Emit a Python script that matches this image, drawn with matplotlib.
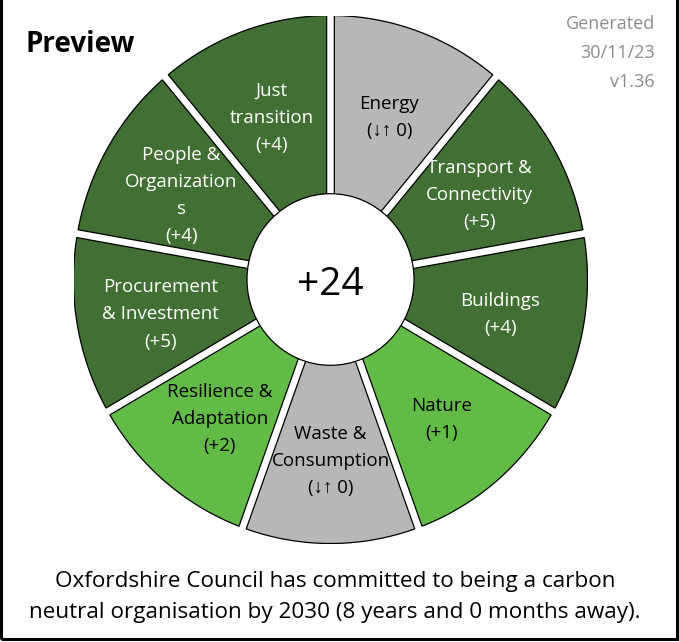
import numpy as np
import matplotlib
matplotlib.use("Agg")
import matplotlib.pyplot as plt
from matplotlib.patches import Polygon, Circle, Rectangle

plt.rcParams['font.family'] = ['Open Sans', 'Liberation Sans', 'DejaVu Sans']

# segments clockwise from the top
labels = ["Energy", "Transport &\nConnectivity", "Buildings", "Nature",
          "Waste &\nConsumption", "Resilience &\nAdaptation",
          "Procurement\n& Investment", "People &\nOrganization\ns",
          "Just\ntransition"]
scores = [0, 5, 4, 1, 0, 2, 5, 4, 4]
total_label = "+24"
footer = ("Oxfordshire Council has committed to being a carbon\n"
          "neutral organisation by 2030 (8 years and 0 months away).")
generated = "Generated\n30/11/23\nv1.36"

dark_green = '#426f33'
light_green = '#62bb46'
grey = '#b7b7b7'


def seg_colour(v):
    if v == 0:
        return grey, 'black'
    if v <= 2:
        return light_green, 'black'
    return dark_green, 'white'


def score_text(v):
    if v == 0:
        return "(\u2193\u2191 0)"
    return "(%+d)" % v


fig = plt.figure(figsize=(6.79, 6.42), dpi=100)
fig.patch.set_facecolor('white')

# donut axes (pixel-sized to the reference)
ax = fig.add_axes([73.5 / 679, 98.5 / 642, 514 / 679, 528 / 642])
ax.set_xlim(-1, 1)
ax.set_ylim(-1, 1)
ax.axis('off')

n = len(labels)
step = 2 * np.pi / n
R_out, R_in, half_gap = 1.0, 0.3, 0.015

for i, (lab, v) in enumerate(zip(labels, scores)):
    t1 = np.pi / 2 - i * step
    t2 = t1 - step
    a_out = np.arcsin(half_gap / R_out)
    a_in = np.arcsin(half_gap / R_in)
    th_o = np.linspace(t1 - a_out, t2 + a_out, 60)
    th_i = np.linspace(t2 + a_in, t1 - a_in, 20)
    xs = np.concatenate([R_out * np.cos(th_o), R_in * np.cos(th_i)])
    ys = np.concatenate([R_out * np.sin(th_o), R_in * np.sin(th_i)])
    fc, tc = seg_colour(v)
    ax.add_patch(Polygon(np.column_stack([xs, ys]), closed=True,
                         facecolor=fc, edgecolor='black', linewidth=0.9))
    tm = (t1 + t2) / 2
    ax.text(0.67 * np.cos(tm), 0.67 * np.sin(tm) - 0.016,
            lab + "\n" + score_text(v),
            ha='center', va='center', color=tc, fontsize=13.5,
            linespacing=1.65, zorder=5)

ax.add_patch(Circle((0, 0), 0.325, facecolor='white', edgecolor='black',
                    linewidth=0.9, zorder=3))
ax.text(0, -0.022, total_label, ha='center', va='center', fontsize=28, zorder=4)

fig.text(25 / 679, 1 - 52 / 642, "Preview", fontsize=20, fontweight='bold',
         ha='left', va='baseline')
fig.text(655 / 679, 1 - 15 / 642, generated, fontsize=13, color='#8c8c8c',
         ha='right', va='top', linespacing=1.8)
fig.text(335 / 679, 1 - 597 / 642, footer, fontsize=16.2, ha='center',
         va='center', linespacing=1.62)

# frame
fig.patches.append(Rectangle((1.3 / 679, 1 - 638.5 / 642), 675.5 / 679, 1.0,
                             transform=fig.transFigure, fill=False,
                             edgecolor='black', linewidth=2.2))

fig.savefig('out.png', dpi=100)
